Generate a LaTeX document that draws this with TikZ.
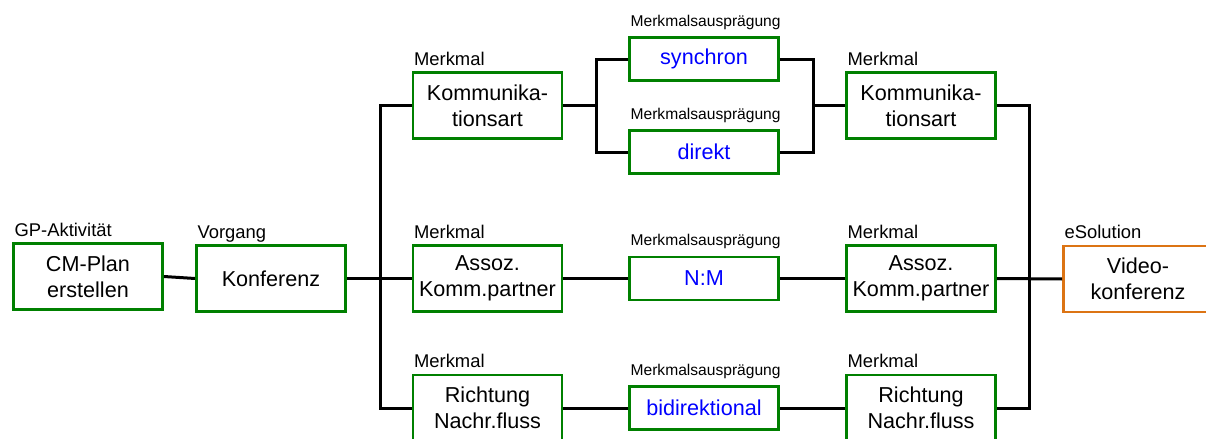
\documentclass[tikz,border=0pt]{standalone}
\usepackage{fontspec}
\setmainfont{Liberation Sans}
\usetikzlibrary{positioning}
\definecolor{boxgreen}{HTML}{008000}
\definecolor{solorange}{HTML}{DC7414}
\definecolor{valblue}{HTML}{0000FF}

\begin{document}
\begin{tikzpicture}[
    x=0.5pt, y=-0.5pt,
    line width=1.5pt,
    box/.style={
        draw=boxgreen, line width=1.4pt,
        rectangle, inner sep=2pt, align=center,
        font=\fontsize{10.8}{13}\selectfont,
        minimum width=74.5pt, minimum height=33pt,
    },
    valbox/.style={box, text=valblue, minimum height=21.5pt},
    solbox/.style={box, draw=solorange},
    lbl/.style={inner sep=0pt, anchor=base west, font=\fontsize{9.2}{10}\selectfont},
    sublbl/.style={lbl, font=\fontsize{7.8}{9}\selectfont},
]
\useasboundingbox (0,0) rectangle (1206,439);

% Aktivitaet und Vorgang
\node[box] (plan) at (88,276.5) {CM-Plan\\erstellen};
\node[box] (konf) at (271,278.5) {Konferenz};

% Merkmale links
\node[box] (kart1) at (487.5,105.5) {Kommunika-\\tionsart};
\node[box] (assoz1) at (487.5,278.5) {Assoz.\\Komm.partner};
\node[box] (richt1) at (487.5,408) {Richtung\\Nachr.fluss};

% Auspraegungen
\node[valbox] (sync) at (704,59) {synchron};
\node[valbox] (direkt) at (704,152) {direkt};
\node[valbox] (nm) at (704,278.5) {N:M};
\node[valbox] (bidir) at (704,408) {bidirektional};

% Merkmale rechts
\node[box] (kart2) at (921,105.5) {Kommunika-\\tionsart};
\node[box] (assoz2) at (921,278.5) {Assoz.\\Komm.partner};
\node[box] (richt2) at (921,408) {Richtung\\Nachr.fluss};

% eSolution
\node[solbox] (video) at (1138,279) {Video-\\konferenz};

% Labels
\node[above right=3pt and 0.5pt of plan.north west, lbl] {GP-Aktivität};
\node[above right=3pt and 0.5pt of konf.north west, lbl] {Vorgang};
\node[above right=3pt and 0.5pt of kart1.north west, lbl] {Merkmal};
\node[above right=3pt and 0.5pt of assoz1.north west, lbl] {Merkmal};
\node[above right=3pt and 0.5pt of richt1.north west, lbl] {Merkmal};
\node[above right=5pt and 0.5pt of sync.north west, sublbl] {Merkmalsausprägung};
\node[above right=5pt and 0.5pt of direkt.north west, sublbl] {Merkmalsausprägung};
\node[above right=5pt and 0.5pt of nm.north west, sublbl] {Merkmalsausprägung};
\node[above right=5pt and 0.5pt of bidir.north west, sublbl] {Merkmalsausprägung};
\node[above right=3pt and 0.5pt of kart2.north west, lbl] {Merkmal};
\node[above right=3pt and 0.5pt of assoz2.north west, lbl] {Merkmal};
\node[above right=3pt and 0.5pt of richt2.north west, lbl] {Merkmal};
\node[above right=3pt and 0.5pt of video.north west, lbl] {eSolution};

% Verbindungen
\coordinate (jl) at (380,0);
\coordinate (jm) at (596,0);
\coordinate (jr) at (813,0);
\coordinate (jf) at (1029,0);
\draw (plan.east) -- (konf.west);
\draw (konf.east) -- (assoz1.west);
\draw (kart1.west) -| (jl |- richt1.west) -- (richt1.west);
\draw (kart1.east) -- (jm |- kart1.east);
\draw (sync.west) -| (jm |- direkt.west) -- (direkt.west);
\draw (sync.east) -| (jr |- direkt.east) -- (direkt.east);
\draw (jr |- kart2.west) -- (kart2.west);
\draw (assoz1.east) -- (nm.west);
\draw (nm.east) -- (assoz2.west);
\draw (richt1.east) -- (bidir.west);
\draw (bidir.east) -- (richt2.west);
\draw (kart2.east) -| (jf |- richt2.east) -- (richt2.east);
\draw (assoz2.east) -- (video.west);

\end{tikzpicture}
\end{document}
